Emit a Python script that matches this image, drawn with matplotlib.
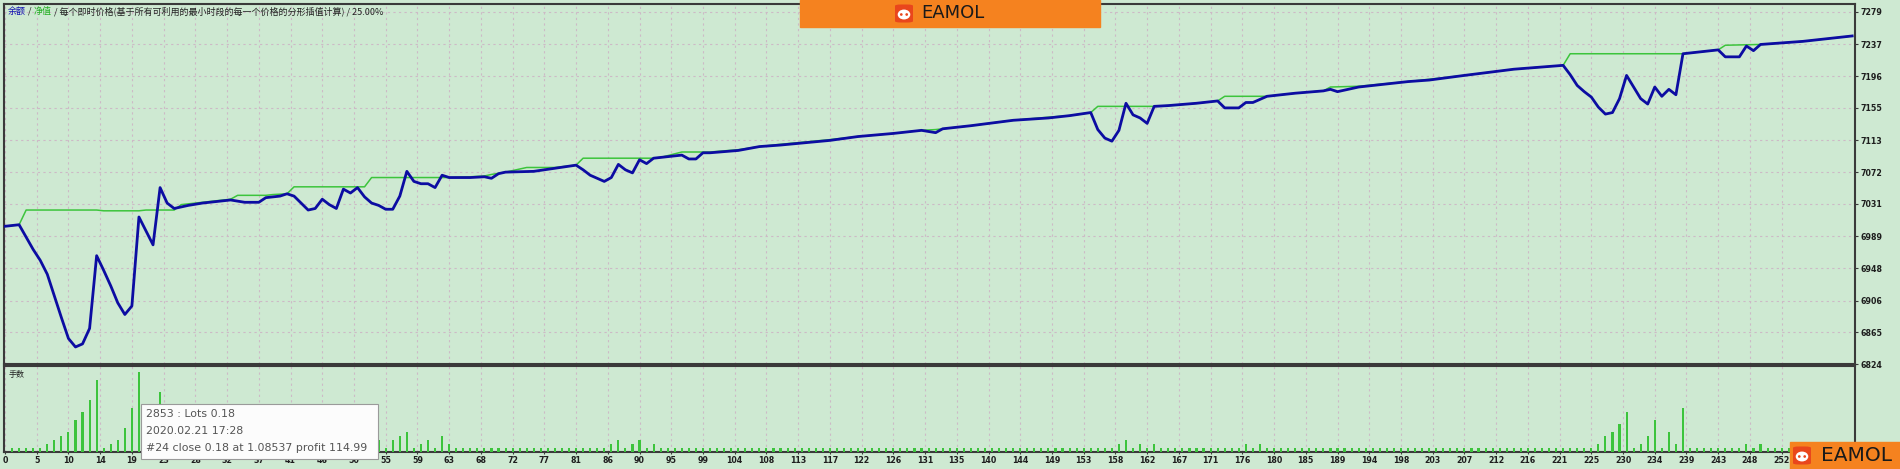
import numpy as np
import matplotlib.pyplot as plt
from matplotlib.patches import Rectangle, Ellipse, FancyBboxPatch
from matplotlib.offsetbox import TextArea, HPacker, AnchoredOffsetbox

# equity (blue) vertices: trade number -> value
eq_trade = [0, 2, 3, 4, 5, 6, 7, 8, 9, 10, 11, 12, 13, 14, 15, 16, 17, 18, 19, 20,
            21, 22, 23, 24, 26, 28, 30, 32, 34, 36, 37, 39, 40, 41, 43, 44, 45, 46, 47, 48,
            49, 50, 51, 52, 53, 54, 55, 56, 57, 58, 59, 60, 61, 62, 63, 66, 68, 69, 70, 71,
            75, 78, 81, 82, 83, 85, 86, 87, 88, 89, 90, 91, 92, 93, 96, 97, 98, 99, 100, 104,
            107, 110, 117, 121, 126, 130, 132, 133, 137, 143, 148, 151, 154, 155, 156, 157, 158, 159, 160, 161,
            162, 163, 165, 169, 172, 173, 175, 176, 177, 179, 183, 187, 188, 189, 190, 192, 199, 202, 207, 214,
            221, 222, 223, 224, 225, 226, 227, 228, 229, 230, 231, 232, 233, 234, 235, 236, 237, 238, 243, 244,
            246, 247, 248, 249, 255, 262]
equity = [7002, 7004, 6988, 6972, 6958, 6940, 6912, 6884, 6857, 6846, 6850, 6870, 6964, 6945, 6925, 6903, 6888, 6899, 7014, 6996,
          6978, 7052, 7032, 7025, 7029, 7032, 7034, 7036, 7033, 7033, 7039, 7041, 7044, 7041, 7023, 7025, 7037, 7030, 7025, 7050,
          7045, 7052, 7040, 7032, 7029, 7024, 7024, 7041, 7073, 7060, 7057, 7057, 7052, 7068, 7065, 7065, 7066, 7064, 7070, 7072,
          7073, 7077, 7081, 7075, 7068, 7060, 7065, 7082, 7075, 7071, 7088, 7083, 7090, 7091, 7094, 7089, 7089, 7097, 7097, 7100,
          7105, 7107, 7113, 7118, 7122, 7126, 7123, 7128, 7132, 7139, 7142, 7145, 7149, 7127, 7116, 7112, 7126, 7161, 7146, 7142,
          7135, 7157, 7158, 7161, 7164, 7155, 7155, 7162, 7162, 7170, 7174, 7177, 7179, 7176, 7178, 7182, 7189, 7191, 7197, 7205,
          7210, 7198, 7184, 7176, 7169, 7156, 7147, 7149, 7167, 7197, 7182, 7167, 7160, 7182, 7170, 7179, 7172, 7225, 7230, 7221,
          7221, 7235, 7229, 7237, 7241, 7248]

# balance (green) vertices
bal_trade = [0, 2, 3, 13, 14, 19, 20, 24, 25, 28, 30, 32, 33, 37, 38, 40, 41, 51, 52, 63,
             66, 68, 69, 71, 74, 78, 81, 82, 92, 93, 96, 100, 104, 107, 110, 117, 121, 126, 130, 132,
             137, 143, 148, 151, 154, 155, 163, 165, 169, 172, 173, 179, 183, 187, 188, 192, 199, 207, 214, 221,
             222, 238, 243, 244, 249, 255, 262]
balance = [7002, 7004, 7023, 7023, 7022, 7022, 7023, 7023, 7030, 7033, 7035, 7037, 7042, 7042, 7043, 7044, 7053, 7053, 7065, 7065,
           7066, 7067, 7069, 7072, 7078, 7078, 7081, 7090, 7090, 7091, 7098, 7098, 7101, 7105, 7108, 7114, 7118, 7122, 7126, 7127,
           7132, 7139, 7143, 7145, 7149, 7157, 7157, 7158, 7161, 7164, 7170, 7170, 7174, 7177, 7182, 7183, 7189, 7197, 7205, 7210,
           7225, 7225, 7230, 7236, 7237, 7241, 7248]

# lots per trade, trades 1..262
lots = [0.01, 0.01, 0.01, 0.01, 0.01, 0.02, 0.03, 0.04, 0.05, 0.08,
        0.10, 0.13, 0.18, 0.01, 0.02, 0.03, 0.06, 0.11, 0.20, 0.05,
        0.09, 0.15, 0.01, 0.01, 0.01, 0.01, 0.01, 0.01, 0.01, 0.01,
        0.01, 0.01, 0.01, 0.02, 0.01, 0.02, 0.01, 0.01, 0.01, 0.01,
        0.01, 0.02, 0.03, 0.04, 0.02, 0.03, 0.04, 0.02, 0.03, 0.05,
        0.01, 0.02, 0.03, 0.01, 0.03, 0.04, 0.05, 0.01, 0.02, 0.03,
        0.01, 0.04, 0.02, 0.01, 0.01, 0.01, 0.01, 0.01, 0.01, 0.01,
        0.01, 0.01, 0.01, 0.01, 0.01, 0.01, 0.01, 0.01, 0.01, 0.01,
        0.01, 0.01, 0.01, 0.01, 0.01, 0.02, 0.03, 0.01, 0.02, 0.03,
        0.01, 0.02, 0.01, 0.01, 0.01, 0.01, 0.01, 0.01, 0.01, 0.01,
        0.01, 0.01, 0.01, 0.01, 0.01, 0.01, 0.01, 0.01, 0.01, 0.01,
        0.01, 0.01, 0.01, 0.01, 0.01, 0.01, 0.01, 0.01, 0.01, 0.01,
        0.01, 0.01, 0.01, 0.01, 0.01, 0.01, 0.01, 0.01, 0.01, 0.01,
        0.01, 0.01, 0.01, 0.01, 0.01, 0.01, 0.01, 0.01, 0.01, 0.01,
        0.01, 0.01, 0.01, 0.01, 0.01, 0.01, 0.01, 0.01, 0.01, 0.01,
        0.01, 0.01, 0.01, 0.01, 0.01, 0.01, 0.01, 0.02, 0.03, 0.01,
        0.02, 0.01, 0.02, 0.01, 0.01, 0.01, 0.01, 0.01, 0.01, 0.01,
        0.01, 0.01, 0.01, 0.01, 0.01, 0.02, 0.01, 0.02, 0.01, 0.01,
        0.01, 0.01, 0.01, 0.01, 0.01, 0.01, 0.01, 0.01, 0.01, 0.01,
        0.01, 0.01, 0.01, 0.01, 0.01, 0.01, 0.01, 0.01, 0.01, 0.01,
        0.01, 0.01, 0.01, 0.01, 0.01, 0.01, 0.01, 0.01, 0.01, 0.01,
        0.01, 0.01, 0.01, 0.01, 0.01, 0.01, 0.01, 0.01, 0.01, 0.01,
        0.01, 0.01, 0.01, 0.01, 0.01, 0.02, 0.04, 0.05, 0.07, 0.10,
        0.01, 0.02, 0.04, 0.08, 0.01, 0.05, 0.02, 0.11, 0.01, 0.01,
        0.01, 0.01, 0.01, 0.01, 0.01, 0.01, 0.02, 0.01, 0.02, 0.01,
        0.01, 0.01, 0.01, 0.01, 0.01, 0.01, 0.01, 0.01, 0.01, 0.01,
        0.01, 0.01]
lot_trade = np.arange(1, len(lots) + 1)

x_labels = ["0", "5", "10", "14", "19", "23", "28", "32", "37", "41", "46", "50", "55", "59",
            "63", "68", "72", "77", "81", "86", "90", "95", "99", "104", "108", "113", "117",
            "122", "126", "131", "135", "140", "144", "149", "153", "158", "162", "167", "171",
            "176", "180", "185", "189", "194", "198", "203", "207", "212", "216", "221", "225",
            "230", "234", "239", "243", "248", "252"]
y_ticks = [6824, 6865, 6906, 6948, 6989, 7031, 7072, 7113, 7155, 7196, 7237, 7279]

header_parts = [("余额", "#1010b0"), (" / ", "#222222"), ("净值", "#22b022"),
                (" / 每个即时价格(基于所有可利用的最小时段的每一个价格的分形插值计算) / 25.00%", "#222222")]
tooltip_lines = ["2853 : Lots 0.18", "2020.02.21 17:28", "#24 close 0.18 at 1.08537 profit 114.99"]

BG = "#cee9d2"
GRID = "#cdb9c6"
BLUE = "#0c0ca2"
GREEN = "#3cc43c"
EDGE = "#3a3a3a"
ORANGE = "#f5821f"
CJK = ["Noto Sans CJK SC", "DejaVu Sans"]

W, H = 1900, 469
fig = plt.figure(figsize=(W / 100, H / 100), dpi=100, facecolor=BG)


def fx(px):
    return px / W


def fy(py):
    return 1 - py / H


ax = fig.add_axes([fx(4), fy(364), fx(1855) - fx(4), fy(4) - fy(364)], facecolor=BG)
ax2 = fig.add_axes([fx(4), fy(452), fx(1855) - fx(4), fy(366) - fy(452)], facecolor=BG)

xpos = np.arange(len(x_labels)) * 4.5
xmin, xmax = -0.14, 262.4

# main panel
ax.plot(bal_trade, balance, color=GREEN, lw=1.1, zorder=3)
ax.plot(eq_trade, equity, color=BLUE, lw=2.0, zorder=4, solid_joinstyle="round")
ax.set_xlim(xmin, xmax)
ax.set_ylim(6824, 7289.3)
ax.yaxis.tick_right()
ax.set_yticks(y_ticks)
ax.set_yticklabels([str(v) for v in y_ticks])
ax.set_xticks(xpos)
ax.tick_params(axis="x", length=0, labelbottom=False)
ax.tick_params(axis="y", length=2.2, width=0.8, color=EDGE, pad=1.5,
               labelsize=5.7, labelcolor="#1e1e1e")
for lab in ax.get_yticklabels():
    lab.set_fontweight("bold")
ax.grid(True, color=GRID, linestyle=(0, (2, 3)), lw=0.8, zorder=0)

# lots panel
ax2.bar(lot_trade, lots, width=0.3, color=GREEN, zorder=3)
ax2.set_xlim(xmin, xmax)
ax2.set_ylim(0, 0.215)
ax2.set_yticks([])
ax2.set_xticks(xpos)
ax2.set_xticklabels(x_labels)
ax2.tick_params(axis="x", length=1.5, width=0.8, color=EDGE, pad=1.5,
                labelsize=5.7, labelcolor="#1e1e1e")
for lab in ax2.get_xticklabels():
    lab.set_fontweight("bold")
ax2.grid(axis="x", color=GRID, linestyle=(0, (2, 3)), lw=0.8, zorder=0)
ax2.text(0.0025, 0.9, "手数", transform=ax2.transAxes, fontsize=5.8,
         family=CJK, color="#222222", va="center", ha="left")

for a in (ax, ax2):
    for s in a.spines.values():
        s.set_color(EDGE)
        s.set_linewidth(1.5)

# header with coloured parts
parts = [TextArea(s, textprops=dict(color=c, fontsize=6.5, family=CJK)) for s, c in header_parts]
box = HPacker(children=parts, align="baseline", pad=0, sep=0)
anch = AnchoredOffsetbox(loc="upper left", child=box, pad=0, frameon=False, borderpad=0,
                         bbox_to_anchor=(fx(8), fy(6)), bbox_transform=fig.transFigure)
fig.add_artist(anch)

# tooltip
fig.add_artist(Rectangle((fx(141), fy(459)), fx(378) - fx(141), fy(404) - fy(459),
                         transform=fig.transFigure, facecolor="#fcfcfc",
                         edgecolor="#9a9a9a", lw=0.8, zorder=10))
for i, line in enumerate(tooltip_lines):
    fig.text(fx(146), fy(414 + 17 * i), line, fontsize=7.9, color="#555555",
             va="center", ha="left", zorder=11)


def logo(x0, y0, w, h, icon_cx, text_x, text_size, icon_r):
    fig.add_artist(Rectangle((fx(x0), fy(y0 + h)), w / W, h / H, transform=fig.transFigure,
                             color=ORANGE, zorder=12))
    cy = y0 + h / 2
    fig.add_artist(FancyBboxPatch((fx(icon_cx - icon_r), fy(cy + icon_r)), 2 * icon_r / W, 2 * icon_r / H,
                                  boxstyle="round,pad=0,rounding_size=0.003",
                                  transform=fig.transFigure, facecolor="#e9461c",
                                  edgecolor="none", zorder=13))
    fig.add_artist(Ellipse((fx(icon_cx), fy(cy + 1)), 1.4 * icon_r / W, 1.1 * icon_r / H,
                           transform=fig.transFigure, facecolor="white", edgecolor="none", zorder=14))
    for dx in (-0.3, 0.3):
        fig.add_artist(Ellipse((fx(icon_cx + dx * icon_r), fy(cy + 1)), 0.3 * icon_r / W, 0.3 * icon_r / H,
                               transform=fig.transFigure, facecolor="#e9461c", edgecolor="none", zorder=15))
    fig.text(fx(text_x), fy(cy), "EAMOL", fontsize=text_size,
             color="#1a1a1a", va="center", ha="left", zorder=15)


logo(800, 0, 300, 27, 904, 921, 13, 9)
logo(1790, 442, 110, 27, 1802, 1821, 14.5, 9)

fig.savefig("out.png", dpi=100, facecolor=BG)
